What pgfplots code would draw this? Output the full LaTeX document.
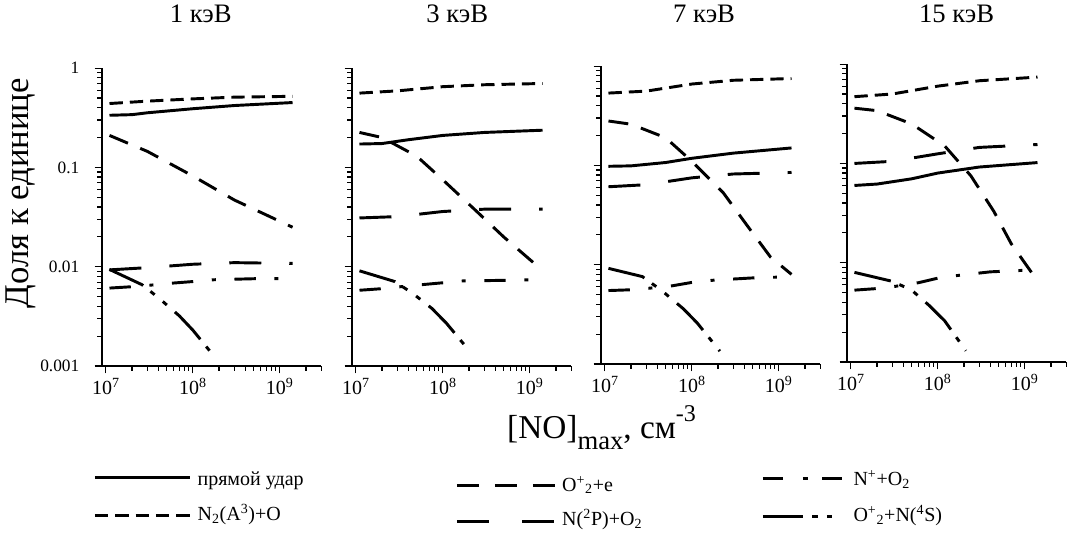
\documentclass[border=0pt]{standalone}
\usepackage{fontspec}
\setmainfont{Liberation Serif}
\usepackage{pgfplots}
\pgfplotsset{compat=1.18}

% line styles of the six channels
\tikzset{
  chPD/.style={black, line width=2.2pt, line cap=butt, solid},
  chNA/.style={black, line width=2.2pt, line cap=butt, dash pattern=on 10pt off 5.25pt},
  chOE/.style={black, line width=2.2pt, line cap=butt, dash pattern=on 15pt off 10pt},
  chNP/.style={black, line width=2.2pt, line cap=butt, dash pattern=on 24pt off 21pt},
  chNO/.style={black, line width=2.2pt, line cap=butt, dash pattern=on 16pt off 14pt on 3pt off 14pt},
  chON/.style={black, line width=2.2pt, line cap=butt, dash pattern=on 28pt off 7pt on 4pt off 8pt on 4pt off 8pt},
  legtext/.style={anchor=base west, inner sep=0pt, font=\fontsize{15}{17}\selectfont},
}
% common settings of the four panels
\pgfplotsset{every axis/.append style={
    xmode=log, ymode=log, scale only axis,
    width=164.5pt, height=223.5pt, anchor=south west,
    xmin=9.02e6, xmax=3e9, ymin=1e-3, ymax=1,
    axis x line*=bottom, axis y line*=left,
    axis line style={-, line width=1.1pt},
    tick align=outside,
    major tick length=5.5pt, minor tick length=3.5pt,
    tick style={black, line width=0.9pt},
    xtick={1e7,1e8,1e9},
    xticklabels={10\textsuperscript{7},10\textsuperscript{8},10\textsuperscript{9}},
    minor xtick={2e7,3e7,4e7,5e7,6e7,7e7,8e7,9e7,2e8,3e8,4e8,5e8,6e8,7e8,8e8,9e8,2e9,3e9},
    ytick={1e-3,1e-2,1e-1,1},
    minor ytick={2e-3,3e-3,4e-3,5e-3,6e-3,7e-3,8e-3,9e-3,2e-2,3e-2,4e-2,5e-2,6e-2,7e-2,8e-2,9e-2,0.2,0.3,0.4,0.5,0.6,0.7,0.8,0.9},
    xticklabel style={font=\fontsize{15}{17}\selectfont},
    yticklabel style={font=\fontsize{13}{15}\selectfont, xshift=-8pt},
    title style={anchor=base, yshift=28.5pt, font=\fontsize{20}{23}\selectfont},
}}

\begin{document}
\begin{tikzpicture}
\path (0pt,0pt) rectangle (800.25pt,-398.25pt);

% ---------- 1 keV ----------
\begin{axis}[at={(76.5pt,-272.25pt)},
  title={1 кэВ}, title style={at={(0.45,1)}},
  yticklabels={0.001,0.01,0.1,1},
  ylabel={Доля к единице},
  ylabel style={at={(-0.369,0.58)}, anchor=center,
    font=\fontsize{26}{29}\selectfont}]
\addplot[chPD] coordinates {(1.1e7,0.335) (2e7,0.34) (3e7,0.355) (1e8,0.39) (3e8,0.42) (1.4e9,0.45)};
\addplot[chNA] coordinates {(1.1e7,0.44) (3e7,0.465) (1e8,0.49) (3e8,0.51) (1.4e9,0.52)};
\addplot[chOE] coordinates {(1.1e7,0.21) (3e7,0.145) (1e8,0.082) (3e8,0.047) (1.4e9,0.025)};
\addplot[chNP] coordinates {(1.1e7,0.0093) (3e7,0.0098) (1e8,0.0106) (3e8,0.011) (1.4e9,0.0108)};
\addplot[chNO] coordinates {(1.1e7,0.0061) (2e7,0.0063) (3.1e7,0.0065) (5.3e7,0.0068) (1e8,0.0071) (1.75e8,0.0074) (5.7e8,0.0076) (1e9,0.0076)};
\addplot[chON] coordinates {(1.1e7,0.0094) (2.6e7,0.0066) (4e7,0.0049) (7e7,0.0032) (1e8,0.0023) (1.7e8,0.0013)};
\end{axis}

% ---------- 3 keV ----------
\begin{axis}[at={(264pt,-272.25pt)},
  title={3 кэВ}, title style={at={(0.48,1)}},
  yticklabels={},
  xlabel={[NO]\raisebox{-0.35em}{\fontsize{20}{22}\selectfont max}, см\raisebox{0.5em}{\fontsize{18}{20}\selectfont -3}},
  xlabel style={at={(1.138,-0.2416)}, anchor=base,
    font=\fontsize{25}{28}\selectfont}]
\addplot[chPD] coordinates {(1.1e7,0.172) (2e7,0.174) (4e7,0.19) (1e8,0.21) (3e8,0.225) (1.4e9,0.237)};
\addplot[chNA] coordinates {(1.1e7,0.56) (3e7,0.59) (1e8,0.65) (3e8,0.68) (1.4e9,0.70)};
\addplot[chOE] coordinates {(1.1e7,0.225) (2e7,0.2) (5e7,0.13) (1e8,0.075) (2.3e8,0.038) (5e8,0.02) (1.1e9,0.011)};
\addplot[chNP] coordinates {(1.1e7,0.031) (3e7,0.032) (1e8,0.036) (3e8,0.038) (1.4e9,0.038)};
\addplot[chNO] coordinates {(1.1e7,0.0058) (1.9e7,0.006) (3.3e7,0.0063) (5.7e7,0.0066) (1e8,0.0069) (1.7e8,0.0072) (5e8,0.0073) (1e9,0.0074)};
\addplot[chON] coordinates {(1.1e7,0.0091) (2.8e7,0.0071) (4.5e7,0.0054) (7.5e7,0.0038) (1.1e8,0.0027) (2.05e8,0.0014)};
\end{axis}

% ---------- 7 keV ----------
\begin{axis}[at={(450.75pt,-270.75pt)},
  title={7 кэВ}, title style={at={(0.47,1)}, yshift=-1.5pt},
  yticklabels={}]
\addplot[chPD] coordinates {(1.1e7,0.098) (2e7,0.099) (5e7,0.107) (1e8,0.118) (3e8,0.133) (1.4e9,0.15)};
\addplot[chNA] coordinates {(1.1e7,0.535) (3e7,0.56) (1e8,0.66) (3e8,0.72) (1.4e9,0.75)};
\addplot[chOE] coordinates {(1.1e7,0.28) (2e7,0.26) (5e7,0.19) (1e8,0.11) (2.3e8,0.053) (4.3e8,0.025) (8e8,0.012) (1.4e9,0.008)};
\addplot[chNP] coordinates {(1.1e7,0.061) (3e7,0.064) (1e8,0.075) (3e8,0.082) (1.4e9,0.085)};
\addplot[chNO] coordinates {(1.1e7,0.0055) (2e7,0.0056) (3.2e7,0.0058) (5.7e7,0.0061) (1.06e8,0.0067) (1.8e8,0.007) (5.4e8,0.0074) (9.5e8,0.0075)};
\addplot[chON] coordinates {(1.1e7,0.0092) (2.7e7,0.0076) (4.5e7,0.0055) (8e7,0.0036) (1.15e8,0.0026) (2.1e8,0.00135)};
\end{axis}

% ---------- 15 keV ----------
\begin{axis}[at={(635.25pt,-269.25pt)},
  title={15 кэВ}, title style={at={(0.50,1)}, yshift=-3pt},
  yticklabels={}]
\addplot[chPD] coordinates {(1.1e7,0.06) (2e7,0.062) (5e7,0.07) (1e8,0.08) (3e8,0.092) (1.4e9,0.102)};
\addplot[chNA] coordinates {(1.1e7,0.47) (3e7,0.5) (1e8,0.6) (3e8,0.68) (1.4e9,0.74)};
\addplot[chOE] coordinates {(1.1e7,0.36) (2e7,0.34) (5e7,0.25) (1.2e8,0.15) (2.4e8,0.075) (4.4e8,0.033) (7e8,0.0155) (1.3e9,0.0072)};
\addplot[chNP] coordinates {(1.1e7,0.1) (3e7,0.105) (1e8,0.125) (3e8,0.145) (1.4e9,0.155)};
\addplot[chNO] coordinates {(1.1e7,0.0053) (2e7,0.0055) (3.3e7,0.0058) (6e7,0.0063) (1e8,0.007) (1.8e8,0.0075) (4e8,0.0081) (1e9,0.0084)};
\addplot[chON] coordinates {(1.1e7,0.008) (3e7,0.0065) (5e7,0.0053) (8e7,0.0037) (1.2e8,0.0026) (2.1e8,0.0013)};
\end{axis}

% ---------- legend (sample lines and labels) ----------
\draw[chPD] (71.25pt,-355.5pt) -- (142.5pt,-355.5pt);
\node[legtext] at (148pt,-362pt) {прямой удар};
\draw[chNA] (71.25pt,-384pt) -- (142.5pt,-384pt);
\node[legtext] at (148pt,-388pt) {N\textsubscript{2}(A\textsuperscript{3})+O};
\draw[chOE, dash pattern=on 16.5pt off 12pt] (342.75pt,-361.5pt) -- (416.25pt,-361.5pt);
\node[legtext] at (421.5pt,-366pt) {O\textsuperscript{+}\textsubscript{2}+e};
\draw[chNP, dash pattern=on 24pt off 25pt] (342.75pt,-388.5pt) -- (416.25pt,-388.5pt);
\node[legtext] at (421.5pt,-392pt) {N(\textsuperscript{2}P)+O\textsubscript{2}};
\draw[chNO, dash pattern=on 15pt off 15pt on 3.5pt off 11pt] (572.25pt,-356.25pt) -- (635.25pt,-356.25pt);
\node[legtext] at (640pt,-362pt) {N\textsuperscript{+}+O\textsubscript{2}};
\draw[chON, dash pattern=on 30pt off 7pt on 4pt off 7pt on 4pt off 20pt] (572.25pt,-384.75pt) -- (635.25pt,-384.75pt);
\node[legtext] at (640pt,-389pt) {O\textsuperscript{+}\textsubscript{2}+N(\textsuperscript{4}S)};
\end{tikzpicture}
\end{document}
